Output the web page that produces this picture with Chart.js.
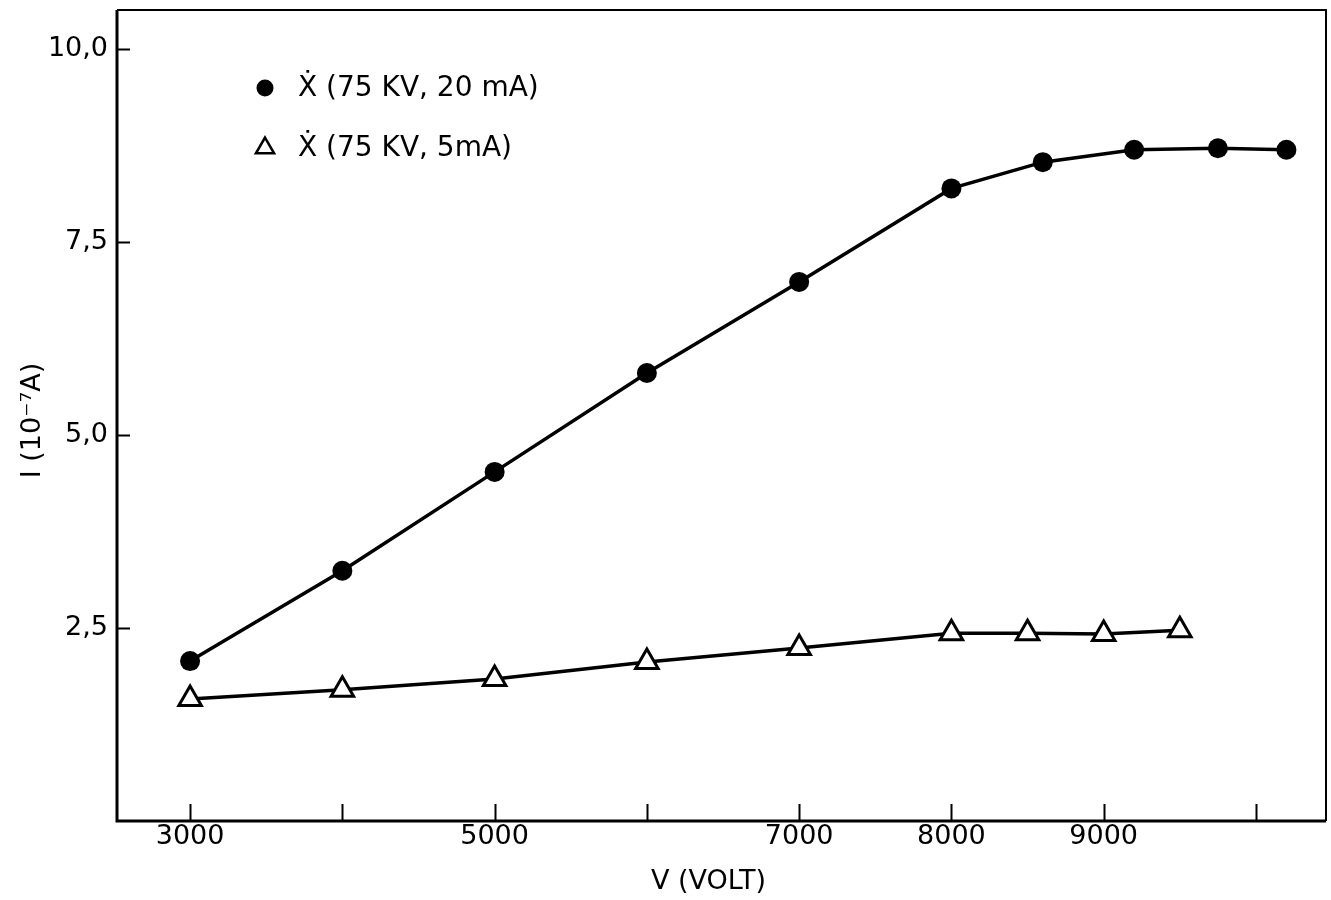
<!DOCTYPE html>
<html>
<head>
<meta charset="utf-8">
<title>I (10⁻⁷A) – V (VOLT)</title>
<script src="https://cdn.jsdelivr.net/npm/chart.js@4.4.1/dist/chart.umd.min.js"></script>
<style>
  html, body { margin: 0; padding: 0; background: #ffffff; }
  #wrap { width: 1331px; height: 900px; position: relative; }
</style>
</head>
<body>
<div id="wrap"><canvas id="chart" width="1331" height="900"></canvas></div>
<script>
// Series: anode voltage (V) against current (10^-7 A)
const voltsHigh   = [3000, 4000, 5000, 6000, 7000, 8000, 8600, 9200, 9750, 10200];
const currentHigh = [2.07, 3.24, 4.52, 5.80, 6.98, 8.19, 8.53, 8.69, 8.71, 8.69];

const voltsLow    = [3000, 4000, 5000, 6000, 7000, 8000, 8500, 9000, 9500];
const currentLow  = [1.58, 1.70, 1.84, 2.06, 2.24, 2.43, 2.43, 2.42, 2.47];

const seriesNames = ['Ẋ (75 KV, 20 mA)', 'Ẋ (75 KV, 5mA)'];

// Axis ticks and their printed labels
const xTickValues = [3000, 4000, 5000, 6000, 7000, 8000, 9000, 10000];
const xTickLabels = ['3000', '', '5000', '', '7000', '8000', '9000', ''];
const yTickValues = [2.5, 5, 7.5, 10];
const yTickLabels = ['2,5', '5,0', '7,5', '10,0'];

const xTitle = 'V (VOLT)';
const yTitle = 'I (10⁻⁷A)';

const FONT = '"DejaVu Sans", sans-serif';
const INK = '#000000';

function toPoints(xs, ys) {
  return xs.map((x, i) => ({ x: x, y: ys[i] }));
}

// Frame, inward tick marks, axis titles and the inset key
const decorations = {
  id: 'decorations',
  afterDraw(chart) {
    const ctx = chart.ctx;
    const a = chart.chartArea;
    const xs = chart.scales.x;
    const ys = chart.scales.y;
    ctx.save();
    ctx.strokeStyle = INK;
    ctx.lineCap = 'butt';

    // frame
    ctx.lineWidth = 3;
    ctx.beginPath();
    ctx.moveTo(a.left, a.top);
    ctx.lineTo(a.left, a.bottom);
    ctx.lineTo(a.right, a.bottom);
    ctx.stroke();
    ctx.lineWidth = 2;
    ctx.beginPath();
    ctx.moveTo(a.left, a.top);
    ctx.lineTo(a.right, a.top);
    ctx.lineTo(a.right, a.bottom);
    ctx.stroke();

    // tick marks pointing into the plot
    ctx.lineWidth = 2;
    ctx.beginPath();
    xTickValues.forEach(v => {
      const px = Math.round(xs.getPixelForValue(v)) + 0.5;
      ctx.moveTo(px, a.bottom);
      ctx.lineTo(px, a.bottom - 17);
    });
    yTickValues.forEach(v => {
      const py = Math.round(ys.getPixelForValue(v)) + 0.5;
      ctx.moveTo(a.left, py);
      ctx.lineTo(a.left + 13, py);
    });
    ctx.stroke();

    // axis titles
    ctx.fillStyle = INK;
    ctx.font = '27px ' + FONT;
    ctx.textAlign = 'center';
    ctx.textBaseline = 'middle';
    ctx.fillText(xTitle, (a.left + a.right) / 2 - 13, 882);
    ctx.save();
    ctx.translate(33, (a.top + a.bottom) / 2 + 5);
    ctx.rotate(-Math.PI / 2);
    ctx.fillText(yTitle, 0, 0);
    ctx.restore();

    // key
    const kx = a.left + 148;
    const rows = [a.top + 78, a.top + 138];
    ctx.beginPath();
    ctx.arc(kx, rows[0], 8.5, 0, Math.PI * 2);
    ctx.fill();
    const r = 10.5;
    ctx.lineWidth = 2.5;
    ctx.beginPath();
    ctx.moveTo(kx, rows[1] - r);
    ctx.lineTo(kx + r * Math.sin(Math.PI * 2 / 3), rows[1] + r / 2);
    ctx.lineTo(kx - r * Math.sin(Math.PI * 2 / 3), rows[1] + r / 2);
    ctx.closePath();
    ctx.stroke();
    ctx.textAlign = 'left';
    ctx.font = '28px ' + FONT;
    ctx.fillText(seriesNames[0], kx + 33, rows[0] + 1);
    ctx.fillText(seriesNames[1], kx + 33, rows[1] + 1);
    ctx.restore();
  }
};

new Chart(document.getElementById('chart'), {
  type: 'line',
  data: {
    datasets: [
      {
        label: seriesNames[0],
        data: toPoints(voltsHigh, currentHigh),
        borderColor: INK,
        borderWidth: 3.5,
        backgroundColor: INK,
        pointStyle: 'circle',
        pointRadius: 10,
        pointBorderWidth: 0,
        pointBackgroundColor: INK,
        tension: 0,
        fill: false
      },
      {
        label: seriesNames[1],
        data: toPoints(voltsLow, currentLow),
        borderColor: INK,
        borderWidth: 3.5,
        backgroundColor: '#ffffff',
        pointStyle: 'triangle',
        pointRadius: 13,
        pointBorderWidth: 3,
        pointBorderColor: INK,
        pointBackgroundColor: '#ffffff',
        tension: 0,
        fill: false
      }
    ]
  },
  options: {
    responsive: false,
    animation: false,
    layout: { autoPadding: false, padding: { top: 10, right: 5, left: 0, bottom: 0 } },
    plugins: {
      legend: { display: false },
      tooltip: { enabled: false }
    },
    scales: {
      x: {
        type: 'linear',
        min: 2520,
        max: 10460,
        grid: { display: false, drawTicks: false },
        border: { display: false },
        afterBuildTicks: s => { s.ticks = xTickValues.map(v => ({ value: v })); },
        afterFit: s => { s.height = 79; s.paddingLeft = 0; s.paddingRight = 0; },
        ticks: {
          autoSkip: false,
          maxRotation: 0,
          padding: 0,
          color: INK,
          font: { family: FONT, size: 27 },
          callback: v => {
            const i = xTickValues.indexOf(v);
            return i >= 0 ? xTickLabels[i] : '';
          }
        }
      },
      y: {
        type: 'linear',
        min: 0,
        max: 10.5,
        grid: { display: false, drawTicks: false },
        border: { display: false },
        afterBuildTicks: s => { s.ticks = yTickValues.map(v => ({ value: v })); },
        afterFit: s => { s.width = 117; s.paddingTop = 0; s.paddingBottom = 0; },
        ticks: {
          padding: 9,
          color: INK,
          font: { family: FONT, size: 27 },
          callback: v => {
            const i = yTickValues.indexOf(v);
            return i >= 0 ? yTickLabels[i] : '';
          }
        }
      }
    }
  },
  plugins: [decorations]
});
</script>
</body>
</html>
